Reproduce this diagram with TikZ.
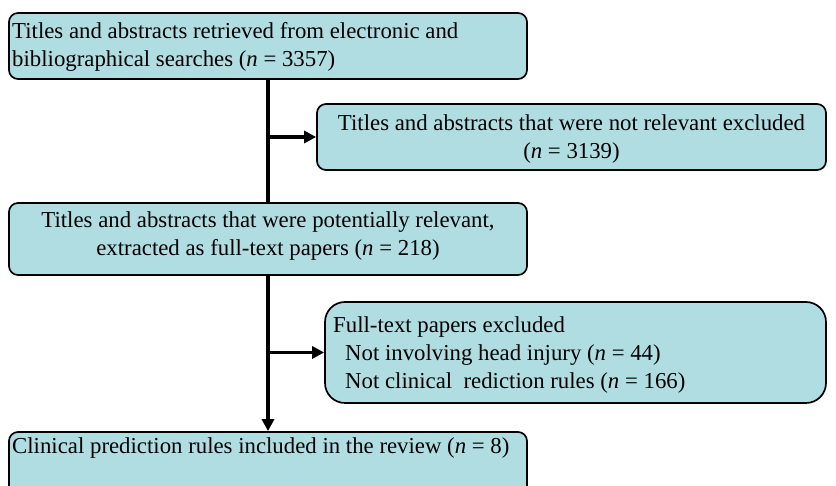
\documentclass[tikz,border=0pt]{standalone}
\usepackage{fontspec}
\setmainfont{Liberation Serif}
\usetikzlibrary{arrows.meta}
\definecolor{boxfill}{RGB}{176,221,226}
\begin{document}
\begin{tikzpicture}[x=1pt,y=1pt,
  box/.style={draw=black, line width=1.7pt, fill=boxfill, rounded corners=9pt, inner sep=0pt},
  txt/.style={font=\fontsize{22.8}{28}\selectfont, inner sep=0pt},
  conn/.style={line width=3.8pt},
  arr/.style={line width=3.8pt, -{Triangle[length=12pt,width=12pt]}}]
\useasboundingbox (0,0) rectangle (836,486);
\node[box, minimum width=518pt, minimum height=66pt] (b1) at (268,440) {};
\node[box, minimum width=509pt, minimum height=66pt] (b2) at (571.5,349) {};
\node[box, minimum width=518pt, minimum height=72pt] (b3) at (268,247) {};
\node[box, rounded corners=20pt, minimum width=501pt, minimum height=101pt] (b4) at (575.5,133.5) {};
\node[box, minimum width=518pt, minimum height=80pt] (b5) at (268,14) {};
% texts (base anchor = last line baseline)
\node[txt, anchor=base west, align=left] (t1) at (12,419) {Titles and abstracts retrieved from electronic and\\bibliographical searches (\textit{n} = 3357)};
\node[txt, anchor=base, align=center] (t2) at (571.5,327) {Titles and abstracts that were not relevant excluded\\(\textit{n} = 3139)};
\node[txt, anchor=base, align=center] (t3) at (268,230) {Titles and abstracts that were potentially relevant,\\extracted as full-text papers (\textit{n} = 218)};
\node[txt, anchor=base west, align=left] (t4) at (333,97) {Full-text papers excluded\\\hspace{12pt}Not involving head injury (\textit{n} = 44)\\\hspace{12pt}Not clinical\ \ rediction rules (\textit{n} = 166)};
\node[txt, anchor=base west] (t5) at (12,32) {Clinical prediction rules included in the review (\textit{n} = 8)};
% connectors
\draw[conn] (b1.south) -- (b3.north);
\draw[arr] (b3.south) -- (b5.north);
\draw[arr] (b1.south |- b2.west) -- (b2.west);
\draw[arr] (b3.south |- b4.west) -- (b4.west);
\end{tikzpicture}
\end{document}
